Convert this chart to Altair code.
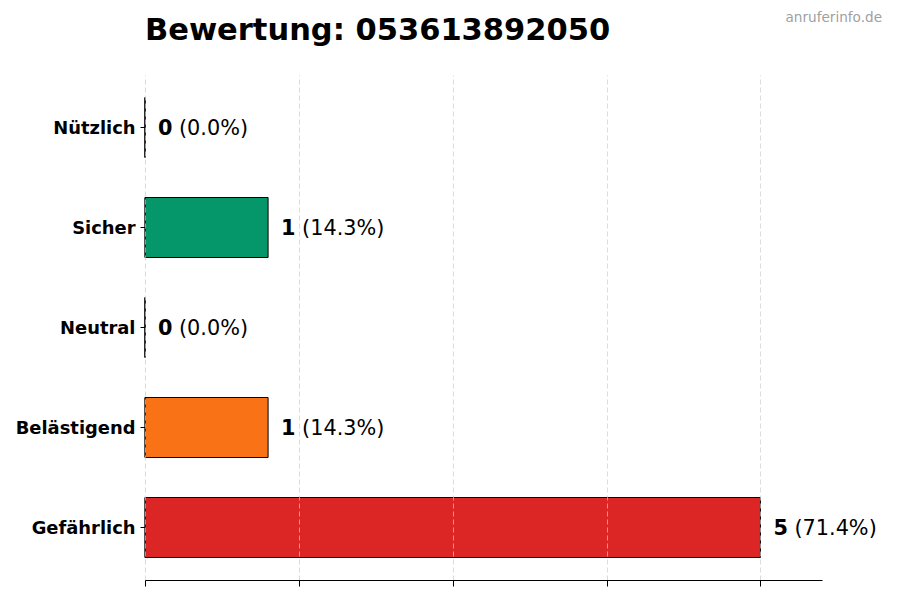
import altair as alt
import pandas as pd

# Bewertungen for the number
categories = ["Nützlich", "Sicher", "Neutral", "Belästigend", "Gefährlich"]
counts = [0, 1, 0, 1, 5]
colors = ["#6b7280", "#059669", "#9ca3af", "#f97316", "#dc2626"]
percents = ["(0.0%)", "(14.3%)", "(0.0%)", "(14.3%)", "(71.4%)"]
tick_values = [0, 1.25, 2.5, 3.75, 5]

df = pd.DataFrame({
    "Kategorie": categories,
    "Anzahl": counts,
    "Prozent": percents,
    "Farbe": colors,
})

FONT = "DejaVu Sans"

y_enc = alt.Y("Kategorie:N", sort=categories, title=None,
              scale=alt.Scale(paddingInner=0.4, paddingOuter=0.225),
              axis=alt.Axis(domain=False, tickSize=5, tickColor="black",
                            labelPadding=5, labelOffset=1.5, labelFont=FONT,
                            labelFontSize=17.9, labelFontWeight="bold",
                            labelColor="black"))
x_enc = alt.X("Anzahl:Q", title=None,
              scale=alt.Scale(domain=[0, 5.5], nice=False, zero=True),
              axis=alt.Axis(values=tick_values, labels=False, tickSize=6,
                            tickColor="black", domainColor="black",
                            gridColor="#cccccc", gridOpacity=0.7,
                            gridDash=[5, 3], zindex=1))

base = alt.Chart(df)

bars = base.mark_bar(stroke="black", strokeWidth=1).encode(
    x=x_enc,
    y=y_enc,
    color=alt.Color("Farbe:N", scale=None, legend=None),
)

edges = base.mark_tick(color="black", thickness=1, size=60, orient="vertical").encode(
    x=alt.X("zero:Q"),
    y=alt.Y("Kategorie:N", sort=categories),
).transform_calculate(zero="0")

values = base.mark_text(align="left", baseline="middle", dx=13, dy=1, font=FONT,
                        fontSize=20.8, fontWeight="bold", color="black").encode(
    x="Anzahl:Q",
    y=alt.Y("Kategorie:N", sort=categories),
    text="Anzahl:Q",
)

pcts = base.mark_text(align="left", baseline="middle", dx=34, dy=1, font=FONT,
                      fontSize=20.8, color="black").encode(
    x="Anzahl:Q",
    y=alt.Y("Kategorie:N", sort=categories),
    text="Prozent:N",
)

heading = alt.Chart(pd.DataFrame({"t": ["Bewertung: 053613892050"]})).mark_text(
    align="left", baseline="alphabetic", font=FONT, fontSize=30.5,
    fontWeight="bold", color="black"
).encode(x=alt.value(0), y=alt.value(-35), text="t:N")

watermark = alt.Chart(pd.DataFrame({"t": ["anruferinfo.de"]})).mark_text(
    align="right", baseline="alphabetic", font=FONT, fontSize=13.6, color="#a0a0a0"
).encode(x=alt.value(737), y=alt.value(-53), text="t:N")

chart = alt.layer(bars, edges, values, pcts, heading, watermark).properties(
    width=677,
    height=505,
    padding={"left": 137, "top": 67, "right": 70, "bottom": 20},
    autosize=alt.AutoSizeParams(type="none"),
).configure_view(stroke=None)

chart.save("out.html", embed_options={"renderer": "svg", "actions": False})
